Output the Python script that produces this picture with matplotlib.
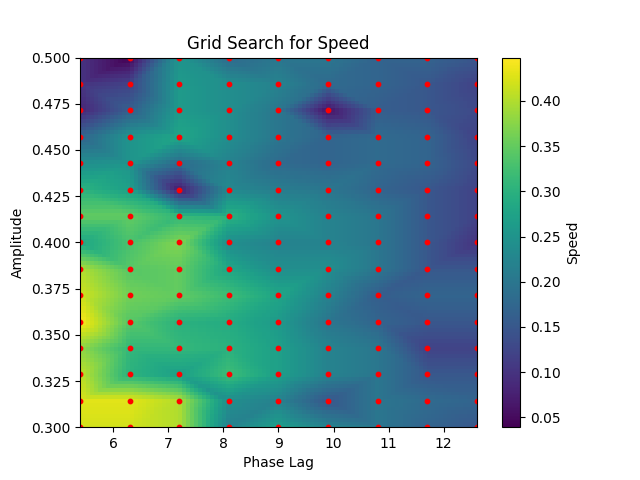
import numpy as np
import matplotlib
matplotlib.use("Agg")
import matplotlib.pyplot as plt
import matplotlib.tri as mtri

phase_lag = np.linspace(5.4, 12.6, 9)
amplitude = np.linspace(0.3, 0.5, 15)

# speed[row][col]: rows = amplitude from 0.5 down to 0.3, cols = phase lag
speed = [
    [0.10, 0.039, 0.25, 0.18, 0.20, 0.20, 0.17, 0.17, 0.15],
    [0.10, 0.12, 0.26, 0.24, 0.22, 0.18, 0.17, 0.15, 0.12],
    [0.08, 0.16, 0.26, 0.24, 0.20, 0.06, 0.16, 0.15, 0.13],
    [0.17, 0.25, 0.28, 0.24, 0.20, 0.17, 0.18, 0.17, 0.12],
    [0.24, 0.25, 0.18, 0.22, 0.18, 0.17, 0.18, 0.17, 0.13],
    [0.30, 0.27, 0.07, 0.23, 0.21, 0.20, 0.17, 0.15, 0.12],
    [0.35, 0.35, 0.31, 0.30, 0.25, 0.22, 0.20, 0.15, 0.12],
    [0.28, 0.33, 0.37, 0.24, 0.22, 0.22, 0.20, 0.15, 0.10],
    [0.40, 0.34, 0.35, 0.28, 0.24, 0.24, 0.20, 0.15, 0.15],
    [0.42, 0.36, 0.35, 0.32, 0.28, 0.22, 0.16, 0.17, 0.17],
    [0.448, 0.34, 0.30, 0.29, 0.26, 0.20, 0.17, 0.15, 0.15],
    [0.38, 0.31, 0.31, 0.30, 0.27, 0.22, 0.20, 0.12, 0.12],
    [0.41, 0.30, 0.27, 0.32, 0.27, 0.22, 0.20, 0.15, 0.15],
    [0.43, 0.43, 0.40, 0.24, 0.22, 0.15, 0.20, 0.18, 0.17],
    [0.42, 0.42, 0.40, 0.22, 0.27, 0.22, 0.20, 0.17, 0.15],
]

X, Y = np.meshgrid(phase_lag, amplitude[::-1])
x = X.ravel()
y = Y.ravel()
z = np.array(speed).ravel()

# linear interpolation onto a fine grid
tri = mtri.Triangulation(x, y)
interp = mtri.LinearTriInterpolator(tri, z)
xi = np.linspace(x.min(), x.max(), 100)
yi = np.linspace(y.min(), y.max(), 100)
XI, YI = np.meshgrid(xi, yi)
ZI = interp(XI, YI)

fig, ax = plt.subplots(figsize=(6.4, 4.8), dpi=100)
mesh = ax.pcolormesh(XI, YI, ZI, cmap="viridis", shading="auto",
                     vmin=z.min(), vmax=z.max())
ax.scatter(x, y, c="red", s=10)
ax.set_xlim(x.min(), x.max())
ax.set_ylim(y.min(), y.max())
cbar = fig.colorbar(mesh, ax=ax)
cbar.set_label("Speed")
ax.set_xlabel("Phase Lag")
ax.set_ylabel("Amplitude")
ax.set_title("Grid Search for Speed")

fig.savefig("out.png")
